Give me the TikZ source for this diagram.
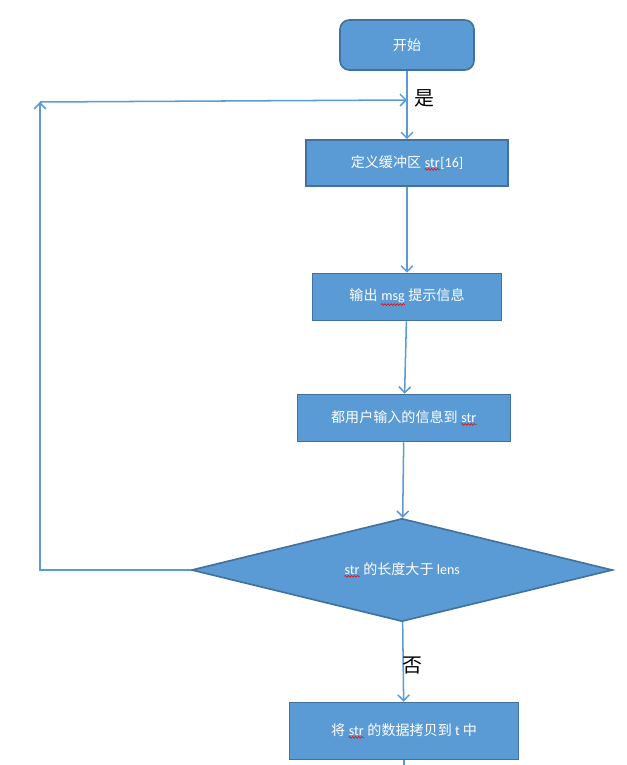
\documentclass[tikz,border=0pt]{standalone}
\usepackage{fontspec}
\setmainfont{Carlito}
\newfontfamily\cjk{Noto Sans CJK SC}
\usetikzlibrary{shapes.geometric,arrows.meta,decorations.pathmorphing}

\definecolor{boxfill}{HTML}{5B9BD5}
\definecolor{boxline}{HTML}{41719C}

% red spell-check squiggle under a word
\newcommand\wavy[1]{\tikz[baseline=(w.base)]{
  \node[shape=rectangle,minimum width=0pt,minimum height=0pt,
    inner sep=0pt,draw=none,fill=none,text=white] (w) {#1};
  \draw[red,fill=none,line width=.5pt,decorate,
    decoration={snake,amplitude=.8pt,segment length=2.6pt}]
    ([yshift=-1.5pt]w.south west) -- ([yshift=-1.5pt]w.south east);}}

\begin{document}
\begin{tikzpicture}[x=0.03cm,y=-0.03cm,
  stepbox/.style={draw=boxline,fill=boxfill,line width=1.4pt,
    text=white,inner sep=0pt,font=\fontsize{12}{14}\selectfont},
  startbox/.style={stepbox,rounded corners=8pt},
  testbox/.style={stepbox,diamond,aspect=4},
  flow/.style={boxfill,line width=1.3pt,
    -{Straight Barb[length=5pt,width=10pt]}},
  tag/.style={font=\cjk\fontsize{17}{19}\selectfont}]

\useasboundingbox (0,0) rectangle (627,765);

\node[startbox, minimum width=4.02cm, minimum height=1.5cm]
  (start) at (407,45) {\cjk 开始};
\node[stepbox, minimum width=6.06cm, minimum height=1.38cm]
  (buf) at (407,163) {{\cjk 定义缓冲区} \wavy{str}[16]};
\node[stepbox, minimum width=5.67cm, minimum height=1.41cm]
  (msg) at (407,297) {{\cjk 输出} \wavy{msg} {\cjk 提示信息}};
\node[stepbox, minimum width=6.39cm, minimum height=1.41cm]
  (read) at (404,418) {{\cjk 都用户输入的信息到} \wavy{str}};
\node[testbox, minimum width=12.63cm, minimum height=3.09cm]
  (test) at (402,570) {\wavy{str} {\cjk 的长度大于} lens};
\node[stepbox, minimum width=6.87cm, minimum height=1.71cm]
  (copy) at (404,731) {{\cjk 将} \wavy{str} {\cjk 的数据拷贝到} t {\cjk 中}};

\coordinate (corner) at (40,102);
\coordinate (join) at (407,100);
\coordinate (exit) at (404,765);

\draw[flow] (start) -- (buf);
\draw[flow] (buf) -- (msg);
\draw[flow] (msg) -- (read);
\draw[flow] (read) -- (test);
\draw[flow] (test) -- (copy);
\draw[boxfill,line width=1.3pt] (copy) -- (exit);

% loop back
\draw[flow] (test.west) -- (40,570) -- (corner);
\draw[flow] (corner) -- (join);

\node[tag] (yes) at (424,98) {是};
\node[tag] (no) at (412,665) {否};
\end{tikzpicture}
\end{document}
